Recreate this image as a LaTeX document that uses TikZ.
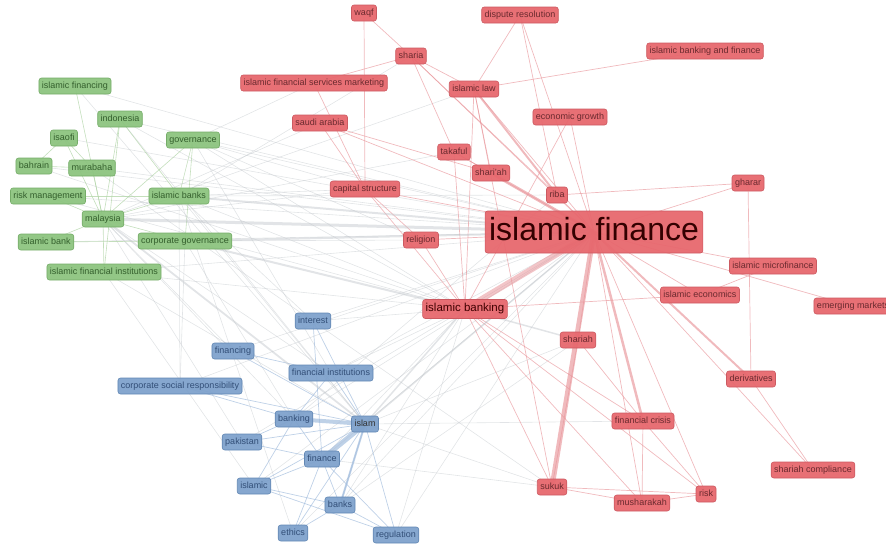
\documentclass[tikz,border=0pt]{standalone}
\usepackage{fontspec}
\setmainfont{Liberation Sans}
\usetikzlibrary{backgrounds}
\definecolor{redfill}{HTML}{E7686E}
\definecolor{redline}{HTML}{CC5A61}
\definecolor{redtext}{HTML}{6A2A2E}
\definecolor{greenfill}{HTML}{8DC480}
\definecolor{greenline}{HTML}{75AC68}
\definecolor{greentext}{HTML}{345F2C}
\definecolor{bluefill}{HTML}{7FA2CC}
\definecolor{blueline}{HTML}{6388B4}
\definecolor{bluetext}{HTML}{334F78}
\definecolor{rededge}{HTML}{E8959A}
\definecolor{grayedge}{HTML}{BFC4C9}
\definecolor{blueedge}{HTML}{A3BDDD}
\definecolor{greenedge}{HTML}{B0D4A6}
\tikzset{
  kw/.style={rounded corners=2.5pt, line width=0.6pt, inner xsep=3pt, inner ysep=2pt,
    minimum height=16pt, text height=6.8pt, text depth=1.8pt,
    font=\fontsize{9}{9}\selectfont, fill opacity=0.95, text opacity=1},
  rednode/.style={kw, draw=redline, fill=redfill, text=redtext},
  greennode/.style={kw, draw=greenline, fill=greenfill, text=greentext},
  bluenode/.style={kw, draw=blueline, fill=bluefill, text=bluetext},
  redlink/.style={draw=rededge, line width=0.7pt, opacity=0.65},
  graylink/.style={draw=grayedge, line width=0.6pt, opacity=0.45},
  bluelink/.style={draw=blueedge, line width=0.7pt, opacity=0.7},
  greenlink/.style={draw=greenedge, line width=0.6pt, opacity=0.75},
}
\begin{document}
\begin{tikzpicture}[x=1pt,y=-1pt]
\useasboundingbox (0,0) rectangle (886,549);
\clip (0,0) rectangle (886,549);
% green cluster
\node[greennode] (ifinancing) at (75,86) {islamic financing};
\node[greennode] (indonesia) at (120,119) {indonesia};
\node[greennode] (isaofi) at (64,138) {isaofi};
\node[greennode] (bahrain) at (34,166) {bahrain};
\node[greennode] (murabaha) at (92,168) {murabaha};
\node[greennode] (governance) at (193,140) {governance};
\node[greennode] (riskman) at (48,196) {risk management};
\node[greennode] (ibanks) at (179,196) {islamic banks};
\node[greennode] (malaysia) at (103,219) {malaysia};
\node[greennode] (ibank) at (46,242) {islamic bank};
\node[greennode] (cgov) at (185,241) {corporate governance};
\node[greennode] (ifi) at (104,272) {islamic financial institutions};
% blue cluster
\node[bluenode] (interest) at (313,321) {interest};
\node[bluenode] (financing) at (233,351) {financing};
\node[bluenode] (fininst) at (331,373) {financial institutions};
\node[bluenode] (csr) at (180,386) {corporate social responsibility};
\node[bluenode] (banking) at (294,419) {banking};
\node[bluenode, text=black!80] (islam) at (365,424) {islam};
\node[bluenode] (pakistan) at (242,442) {pakistan};
\node[bluenode] (finance) at (322,459) {finance};
\node[bluenode] (islamic) at (254,486) {islamic};
\node[bluenode] (banks) at (340,505) {banks};
\node[bluenode] (ethics) at (293,533) {ethics};
\node[bluenode] (regulation) at (396,535) {regulation};
% red cluster
\node[rednode] (waqf) at (364,13) {waqf};
\node[rednode] (dispute) at (520,15) {dispute resolution};
\node[rednode] (sharia) at (411,56) {sharia};
\node[rednode] (ibf) at (705,51) {islamic banking and finance};
\node[rednode] (ifsm) at (314,83) {islamic financial services marketing};
\node[rednode] (ilaw) at (474,89) {islamic law};
\node[rednode] (saudi) at (320,123) {saudi arabia};
\node[rednode] (econ) at (570,117) {economic growth};
\node[rednode] (takaful) at (454,152) {takaful};
\node[rednode] (sharih) at (491,173) {shari'ah};
\node[rednode] (capital) at (365,189) {capital structure};
\node[rednode] (riba) at (557,195) {riba};
\node[rednode] (gharar) at (748,183) {gharar};
\node[rednode, font=\fontsize{32}{32}\selectfont, text height=23pt, text depth=6pt,
  minimum height=42pt, inner xsep=4pt, text=black!80!red] (fin) at (594,232) {islamic finance};
\node[rednode] (religion) at (421,240) {religion};
\node[rednode] (microfin) at (773,266) {islamic microfinance};
\node[rednode] (ieco) at (700,295) {islamic economics};
\node[rednode] (emerging) at (853,306) {emerging markets};
\node[rednode, font=\fontsize{11.5}{11.5}\selectfont, minimum height=19pt,
  text=black!75!red] (ibanking) at (465,309) {islamic banking};
\node[rednode] (shariah) at (578,340) {shariah};
\node[rednode] (derivatives) at (751,379) {derivatives};
\node[rednode] (fcrisis) at (643,421) {financial crisis};
\node[rednode] (compliance) at (813,470) {shariah compliance};
\node[rednode] (sukuk) at (552,487) {sukuk};
\node[rednode] (musharakah) at (642,503) {musharakah};
\node[rednode] (risk) at (706,494) {risk};
\begin{pgfonlayer}{background}
\foreach \a/\b in {ifinancing/fin,indonesia/fin,isaofi/fin,bahrain/fin,murabaha/fin,
  governance/fin,riskman/fin,ibank/fin,ifi/fin,indonesia/ibanking,governance/ibanking,
  ibanks/ibanking,ifi/ibanking,riskman/ibanking,ifinancing/islam,indonesia/islam,
  ibanks/islam,ifi/islam,governance/fininst,murabaha/sukuk,bahrain/ibanking,
  interest/fin,financing/fin,fininst/fin,csr/fin,banking/fin,finance/fin,banks/fin,
  regulation/fin,ethics/fin,pakistan/fin,islamic/fin,interest/ibanking,fininst/ibanking,
  finance/ibanking,banks/ibanking,financing/malaysia,csr/cgov,fininst/malaysia,
  banking/malaysia,interest/ibanks,banking/cgov,csr/ibanks,pakistan/malaysia,
  islamic/ifi,ethics/ibanks,regulation/ibanking,banks/shariah,islam/shariah,
  islam/sukuk,finance/sukuk,islam/fcrisis,banking/riba,capital/ibanks,religion/cgov,
  capital/malaysia,saudi/malaysia,ifsm/governance,religion/governance,ilaw/malaysia,
  sharia/ibanks,takaful/malaysia,riba/ibanks,capital/governance}
  \draw[graylink] (\a.center) -- (\b.center);
\foreach \a/\b in {ifinancing/malaysia,indonesia/malaysia,isaofi/bahrain,isaofi/murabaha,
  murabaha/malaysia,governance/malaysia,riskman/ibanks,malaysia/ibanks,ibank/cgov,
  malaysia/ifi,bahrain/murabaha,indonesia/ibanks,riskman/malaysia,malaysia/cgov,
  governance/cgov,ibank/malaysia,isaofi/malaysia,indonesia/ifi,governance/ibanks}
  \draw[greenlink] (\a.center) -- (\b.center);
\foreach \a/\b in {islam/banks,islam/fininst,islam/regulation,islam/ethics,islam/financing,
  islam/interest,islam/csr,islam/pakistan,islam/islamic,banking/finance,banking/fininst,
  banking/csr,finance/banks,finance/regulation,finance/ethics,pakistan/finance,
  islamic/banks,islamic/regulation,banks/regulation,financing/fininst,interest/finance,
  banking/pakistan,banking/islamic,finance/islamic,ethics/banks}
  \draw[bluelink] (\a.center) -- (\b.center);
\foreach \a/\b in {sharia/fin,ilaw/fin,dispute/fin,econ/fin,takaful/fin,capital/fin,
  riba/fin,gharar/fin,religion/fin,microfin/fin,ieco/fin,emerging/fin,shariah/fin,
  compliance/fin,risk/fin,musharakah/fin,saudi/fin,waqf/sharia,sharia/ilaw,sharia/riba,
  dispute/ilaw,dispute/riba,ibf/ilaw,saudi/capital,saudi/sharih,ifsm/capital,
  econ/ibanking,gharar/derivatives,gharar/riba,microfin/ieco,derivatives/compliance,
  fcrisis/risk,fcrisis/musharakah,sukuk/musharakah,sukuk/risk,musharakah/risk,
  ibanking/religion,ibanking/capital,ibanking/sukuk,ibanking/musharakah,ibanking/risk,
  shariah/sukuk,ibanking/takaful,ibanking/ilaw,sharia/takaful,ilaw/sharih,
  ifsm/sharia,waqf/capital,ibanking/fcrisis,ieco/ibanking,shariah/fcrisis,
  religion/capital,takaful/sharih,sukuk/ilaw}
  \draw[redlink] (\a.center) -- (\b.center);
\draw[graylink, line width=3pt] (malaysia.center) -- (fin.center);
\draw[graylink, line width=2pt] (ibanks.center) -- (fin.center);
\draw[graylink, line width=2pt] (cgov.center) -- (fin.center);
\draw[graylink, line width=2pt] (cgov.center) -- (ibanking.center);
\draw[graylink, line width=1.8pt] (malaysia.center) -- (islam.center);
\draw[graylink, line width=1.5pt] (islam.center) -- (fin.center);
\draw[graylink, line width=1.5pt] (ibanking.center) -- (islam.center);
\draw[graylink, line width=1.5pt] (ibanking.center) -- (shariah.center);
\draw[bluelink, line width=4pt] (islam.center) -- (banking.center);
\draw[bluelink, line width=5pt] (islam.center) -- (finance.center);
\draw[bluelink, line width=2pt] (islam.center) -- (banks.center);
\draw[redlink, line width=6pt, opacity=0.55] (ibanking.center) -- (fin.center);
\draw[redlink, line width=5pt, opacity=0.65] (sukuk.center) -- (fin.center);
\draw[redlink, line width=3pt] (sharih.center) -- (fin.center);
\draw[redlink, line width=2.5pt] (fcrisis.center) -- (fin.center);
\draw[redlink, line width=2pt] (derivatives.center) -- (fin.center);
\draw[redlink, line width=2pt] (ilaw.center) -- (riba.center);
\end{pgfonlayer}
\end{tikzpicture}
\end{document}
